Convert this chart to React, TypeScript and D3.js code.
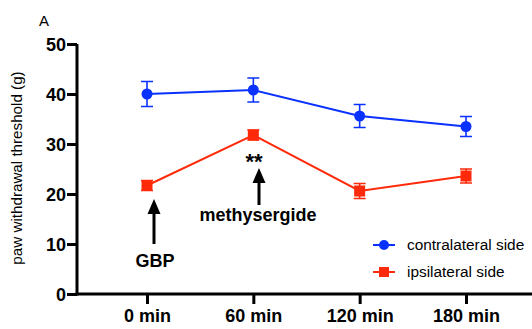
import { useEffect, useRef } from "react";
import * as d3 from "d3";

const categories = ["0 min", "60 min", "120 min", "180 min"];
const contralateral = [40.0, 40.8, 35.6, 33.5];
const contralateralErr = [2.5, 2.4, 2.3, 2.0];
const ipsilateral = [21.7, 31.8, 20.6, 23.6];
const ipsilateralErr = [1.0, 1.0, 1.5, 1.4];
const yTicks = [0, 10, 20, 30, 40, 50];

const BLUE = "#0a32ff";
const RED = "#ff2a0a";

export default function App() {
  const svgRef = useRef<SVGSVGElement>(null);

  useEffect(() => {
    const svg = d3.select(svgRef.current);
    svg.selectAll("*").remove();

    const width = 532;
    const height = 329;
    const left = 77;
    const top = 44;
    const bottom = 294;

    const x = d3.scalePoint().domain(categories).range([147, 466]);
    const y = d3.scaleLinear().domain([0, 50]).range([bottom, top]);

    svg.attr("width", width).attr("height", height);
    const font = "Liberation Sans, Arial, sans-serif";

    // panel letter
    svg.append("text").attr("x", 39).attr("y", 26).attr("font-family", font)
      .attr("font-size", 15).text("A");

    // y axis
    const yAxis = svg.append("g").attr("transform", `translate(${left},0)`)
      .call(d3.axisLeft(y).tickValues(yTicks).tickSize(10).tickSizeOuter(0));
    yAxis.select(".domain").attr("stroke-width", 3).attr("d", `M0,${top}V${bottom + 1.5}`);
    yAxis.selectAll(".tick line").attr("stroke-width", 3);
    yAxis.selectAll(".tick text").attr("font-family", font).attr("font-size", 18)
      .attr("font-weight", "bold").attr("x", -11).attr("dy", "0.35em").attr("fill", "#000");

    // x axis
    const xAxis = svg.append("g").attr("transform", `translate(0,${bottom})`)
      .call(d3.axisBottom(x).tickSize(10).tickSizeOuter(0));
    xAxis.select(".domain").attr("stroke-width", 3).attr("d", `M${left - 1.5},0H${width}`);
    xAxis.selectAll(".tick line").attr("stroke-width", 3);
    xAxis.selectAll(".tick text").attr("font-family", font).attr("font-size", 18)
      .attr("font-weight", "bold").attr("y", 15).attr("fill", "#000");

    // y label
    svg.append("text").attr("transform", `translate(22,168) rotate(-90)`)
      .attr("text-anchor", "middle").attr("font-family", font).attr("font-size", 15.2)
      .text("paw withdrawal threshold (g)");

    const line = d3.line<number>().x((_, i) => x(categories[i])!).y((d) => y(d));

    const drawSeries = (vals: number[], errs: number[], color: string, shape: "circle" | "square") => {
      const g = svg.append("g");
      g.append("path").datum(vals).attr("d", line).attr("fill", "none")
        .attr("stroke", color).attr("stroke-width", 2);
      vals.forEach((v, i) => {
        const cx = x(categories[i])!;
        const e = errs[i];
        g.append("path")
          .attr("d", `M${cx},${y(v + e)}V${y(v - e)}M${cx - 6},${y(v + e)}H${cx + 6}M${cx - 6},${y(v - e)}H${cx + 6}`)
          .attr("stroke", color).attr("stroke-width", 1.6).attr("fill", "none");
        if (shape === "circle") {
          g.append("circle").attr("cx", cx).attr("cy", y(v)).attr("r", 5.5).attr("fill", color);
        } else {
          g.append("rect").attr("x", cx - 5.5).attr("y", y(v) - 5.5).attr("width", 11)
            .attr("height", 11).attr("fill", color);
        }
      });
    };

    drawSeries(contralateral, contralateralErr, BLUE, "circle");
    drawSeries(ipsilateral, ipsilateralErr, RED, "square");

    // annotations
    const arrow = (ax: number, y1: number, y2: number) => {
      svg.append("line").attr("x1", ax).attr("x2", ax).attr("y1", y2).attr("y2", y1 + 10)
        .attr("stroke", "#000").attr("stroke-width", 3);
      svg.append("path").attr("d", `M${ax},${y1}L${ax - 6.5},${y1 + 15}L${ax + 6.5},${y1 + 15}Z`)
        .attr("fill", "#000");
    };
    arrow(154, 199, 244);
    svg.append("text").attr("x", 155).attr("y", 267).attr("text-anchor", "middle")
      .attr("font-family", font).attr("font-size", 18).attr("font-weight", "bold").text("GBP");

    arrow(259, 168, 205);
    svg.append("text").attr("x", 258).attr("y", 221).attr("text-anchor", "middle")
      .attr("font-family", font).attr("font-size", 18).attr("font-weight", "bold").text("methysergide");
    svg.append("text").attr("x", 254).attr("y", 169).attr("text-anchor", "middle")
      .attr("font-family", font).attr("font-size", 22).attr("font-weight", "bold").text("**");

    // legend
    const legend = [
      { label: "contralateral side", color: BLUE, shape: "circle", y: 245 },
      { label: "ipsilateral side", color: RED, shape: "square", y: 272 },
    ];
    legend.forEach((l) => {
      svg.append("line").attr("x1", 373).attr("x2", 395).attr("y1", l.y).attr("y2", l.y)
        .attr("stroke", l.color).attr("stroke-width", 2);
      if (l.shape === "circle") {
        svg.append("circle").attr("cx", 384).attr("cy", l.y).attr("r", 5).attr("fill", l.color);
      } else {
        svg.append("rect").attr("x", 379).attr("y", l.y - 5).attr("width", 10).attr("height", 10)
          .attr("fill", l.color);
      }
      svg.append("text").attr("x", 407).attr("y", l.y).attr("dy", "0.35em")
        .attr("font-family", font).attr("font-size", 15.4).text(l.label);
    });
  }, []);

  return <svg ref={svgRef} style={{ position: "absolute", left: 0, top: 0 }}></svg>;
}
